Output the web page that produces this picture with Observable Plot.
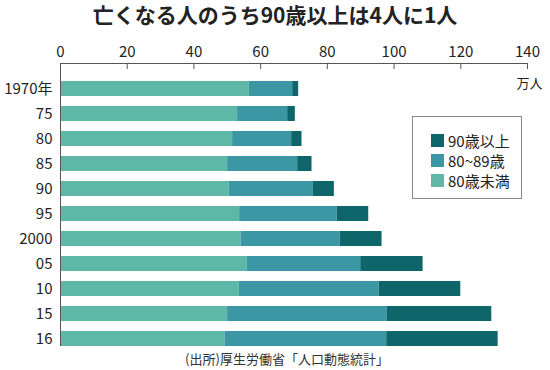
<!DOCTYPE html>
<html>
<head>
<meta charset="utf-8">
<script src="https://cdn.jsdelivr.net/npm/d3@7"></script>
<script src="https://cdn.jsdelivr.net/npm/@observablehq/plot@0.6"></script>
<style>
  html, body { margin: 0; padding: 0; background: #fff; }
  body { width: 550px; height: 370px; position: relative; font-family: "Noto Sans CJK JP", "Noto Sans", sans-serif; color: #222; overflow: hidden; }
  #title { height: 30px; line-height: 28px; text-align: center; font-size: 21px; font-weight: bold; }
  #caption { position: absolute; left: 0; width: 574px; top: 349px; text-align: center; font-size: 13px; color: #333; }
  #legend { position: absolute; left: 412px; top: 116px; width: 110px; height: 83px; border: 1.5px solid #888; box-sizing: border-box; padding: 13px 0 0 18px; }
  .item { display: flex; align-items: center; height: 20px; font-size: 15px; }
  .sw { width: 13px; height: 13px; margin-right: 4px; }
</style>
</head>
<body>
<div id="title">亡くなる人のうち90歳以上は4人に1人</div>
<div id="chart"></div>
<div id="legend"></div>
<div id="caption">(出所)厚生労働省「人口動態統計」</div>
<script>
const years = ["1970年","75","80","85","90","95","2000","05","10","15","16"];
const under80 = [56.6, 53.1, 51.6, 50.1, 50.6, 53.7, 54.1, 55.9, 53.6, 50.1, 49.3];
const age80s  = [13.0, 15.0, 17.7, 21.0, 25.2, 29.2, 29.7, 34.1, 41.9, 47.9, 48.5];
const over90  = [1.8, 2.3, 3.1, 4.3, 6.3, 9.5, 12.6, 18.7, 24.5, 31.3, 33.4];
const groups = ["80歳未満", "80~89歳", "90歳以上"];
const colors = ["#5fb7a7", "#3a97a3", "#0f666a"];
const xTicks = [0, 20, 40, 60, 80, 100, 120, 140];
const unitLabel = "万人";

const rows = [];
years.forEach((y, i) => {
  rows.push({year: y, group: groups[0], value: under80[i]});
  rows.push({year: y, group: groups[1], value: age80s[i]});
  rows.push({year: y, group: groups[2], value: over90[i]});
});

const chart = Plot.plot({
  width: 550,
  height: 320,
  marginTop: 33,
  marginLeft: 60,
  marginRight: 23,
  marginBottom: 4,
  style: {fontFamily: '"Noto Sans CJK JP", sans-serif', color: "#222", background: "#fff"},
  x: {domain: [0, 140], label: null},
  y: {domain: years, paddingInner: 0.4, paddingOuter: 0.19, align: 1, label: null},
  color: {domain: groups, range: colors},
  marks: [
    Plot.barX(rows, Plot.stackX({y: "year", x: "value", fill: "group", order: groups})),
    Plot.axisX(xTicks, {anchor: "top", tickSize: 5, dy: 5, tickFormat: () => "", stroke: "#555", label: null}),
    Plot.axisX(xTicks, {anchor: "top", tickSize: 0, tickPadding: 7, fontSize: 15, label: null}),
    Plot.axisY({anchor: "left", tickSize: 0, tickPadding: 8, fontSize: 15, label: null}),
    Plot.frame({anchor: "top", stroke: "#555"}),
    Plot.ruleX([0], {stroke: "#555"}),
    Plot.text([unitLabel], {frameAnchor: "top-right", dx: 2, dy: 15, fontSize: 13, textAnchor: "middle"})
  ]
});
document.getElementById("chart").appendChild(chart);

const legend = document.getElementById("legend");
[2, 1, 0].forEach(i => {
  const item = document.createElement("div");
  item.className = "item";
  const sw = document.createElement("div");
  sw.className = "sw";
  sw.style.background = colors[i];
  const t = document.createElement("span");
  t.textContent = groups[i];
  item.appendChild(sw);
  item.appendChild(t);
  legend.appendChild(item);
});
</script>
</body>
</html>
